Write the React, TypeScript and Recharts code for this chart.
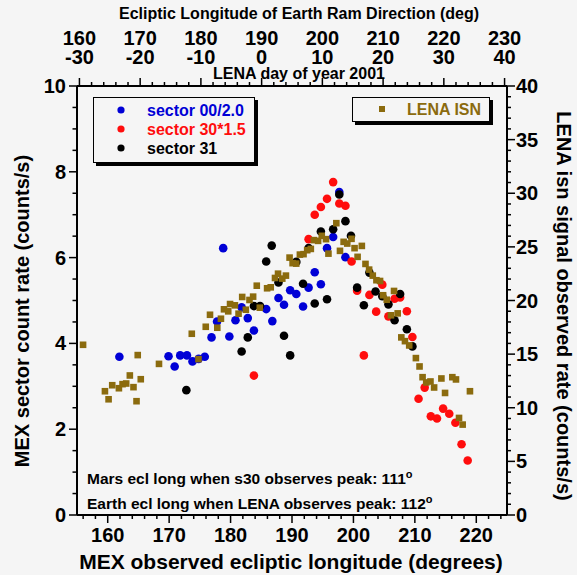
import React from 'react';
import { ScatterChart, Scatter, XAxis, YAxis } from 'recharts';

// MEX sectors, x = MEX observed ecliptic longitude (deg), y = count rate (counts/s)
const sector00Lon = [161.9, 169.9, 170.9, 171.8, 172.9, 173.8, 174.8, 175.8, 176.9, 177.8, 178.8, 179.8, 180.8, 181.8, 182.8, 183.8, 185.8, 186.8, 187.8, 188.7, 189.7, 190.7, 191.8, 192.7, 193.7, 194.7, 195.7, 196.7, 197.7, 198.7];
const sector00Rate = [3.69, 3.7, 3.46, 3.72, 3.72, 3.58, 3.64, 3.69, 4.14, 4.51, 6.22, 4.16, 4.54, 4.84, 4.59, 4.3, 4.8, 4.52, 5.06, 4.9, 5.24, 5.15, 4.86, 5.3, 5.66, 5.38, 6.22, 6.48, 7.53, 6.01];

const sector30Lon = [183.8, 192.7, 193.7, 194.7, 195.7, 196.7, 197.7, 198.7, 199.7, 200.6, 201.7, 202.6, 203.7, 204.7, 205.7, 206.7, 207.6, 208.7, 209.6, 210.6, 211.6, 212.6, 213.6, 214.6, 215.6, 216.6, 217.6, 218.6];
const sector30Rate = [3.25, 6.43, 7.0, 7.18, 7.37, 7.76, 7.26, 7.21, 5.91, 5.23, 3.72, 5.13, 4.74, 5.37, 4.63, 5.04, 5.07, 4.75, 4.15, 2.71, 2.97, 2.3, 2.25, 2.48, 2.36, 2.15, 1.65, 1.27];

const sector31Lon = [172.8, 181.8, 182.8, 183.8, 184.8, 185.8, 186.7, 187.8, 188.7, 189.7, 190.7, 191.8, 192.7, 193.7, 194.7, 195.7, 196.7, 197.7, 198.7, 199.6, 200.6, 201.7, 202.6, 203.6, 204.7, 205.7, 206.7, 207.6, 208.7, 209.6];
const sector31Rate = [2.91, 3.81, 4.14, 4.87, 4.87, 5.91, 6.28, 5.42, 4.18, 3.72, 5.9, 5.39, 6.22, 4.93, 6.61, 5.03, 6.66, 7.47, 6.85, 6.51, 5.3, 4.89, 5.65, 5.21, 5.1, 4.91, 4.54, 5.15, 4.33, 3.93];

// LENA ISN, x = ecliptic longitude of Earth ram direction (deg), y = counts/s (right axis)
const lenaRam = [160.6, 164.2, 164.8, 165.4, 166.5, 167.1, 167.7, 168.3, 168.9, 169.4, 169.6, 170.1, 173.1, 178.5, 179.6, 180.8, 181.5, 182.7, 183.3, 183.8, 184.5, 184.8, 185.6, 186.2, 186.8, 187.4, 188.0, 188.6, 189.2, 189.7, 190.9, 191.5, 192.2, 192.7, 193.4, 194.0, 194.6, 195.1, 195.7, 196.3, 196.9, 197.5, 198.1, 198.6, 199.3, 199.9, 200.6, 201.0, 202.3, 202.9, 203.5, 204.1, 204.8, 205.3, 205.8, 206.5, 207.1, 207.7, 208.3, 208.9, 209.5, 210.0, 210.6, 211.3, 211.8, 212.4, 213.0, 213.6, 214.3, 215.4, 216.0, 216.5, 217.1, 217.8, 218.4, 219.6, 220.2, 221.4, 222.0, 222.5, 223.1, 224.3];
const lenaRate = [15.87, 11.54, 10.79, 12.1, 11.82, 12.2, 12.26, 13.01, 11.92, 10.61, 14.91, 12.66, 14.09, 16.9, 14.53, 17.55, 18.67, 17.46, 18.3, 19.18, 18.99, 19.67, 19.55, 18.77, 20.33, 19.14, 20.05, 20.36, 21.38, 19.33, 21.14, 21.23, 22.1, 22.5, 22.04, 22.32, 24.0, 23.48, 23.44, 24.28, 24.32, 24.69, 24.81, 25.63, 25.56, 26.03, 25.72, 24.37, 27.21, 24.63, 25.47, 25.31, 25.75, 24.88, 24.07, 25.09, 23.41, 22.88, 22.32, 21.89, 21.82, 20.49, 20.07, 18.62, 20.89, 18.8, 16.56, 16.21, 15.81, 14.63, 13.85, 12.85, 12.36, 12.45, 11.89, 12.73, 11.38, 12.85, 12.64, 9.05, 8.43, 11.54];

// tick labels
const bottomLabels = [160, 170, 180, 190, 200, 210, 220];
const topEclLabels = [160, 170, 180, 190, 200, 210, 220, 230];
const topDayLabels = [-30, -20, -10, 0, 10, 20, 30, 40];
const leftLabels = [0, 2, 4, 6, 8, 10];
const rightLabels = [0, 5, 10, 15, 20, 25, 30, 35, 40];

const BLUE = '#0000d6';
const RED = '#ff0d0d';
const BROWN = '#8b6b0e';
const FONT = '"Liberation Sans", Arial, Helvetica, sans-serif';

const zip = (xs: number[], ys: number[]) => xs.map((x, i) => ({ x, y: ys[i] }));

const range = (from: number, to: number, step: number) => {
  const out: number[] = [];
  for (let i = 0; from + i * step <= to + 1e-9; i++) out.push(+(from + i * step).toFixed(2));
  return out;
};

const txt = { fontFamily: FONT, fontWeight: 700, fill: '#000' } as const;

const BottomTick = (p: any) => {
  const v = p.payload.value;
  const major = bottomLabels.includes(v);
  return (
    <g>
      <line x1={p.x} x2={p.x} y1={p.y} y2={p.y + (major ? 8 : 4)} stroke="#000" strokeWidth={1.5} />
      {major && <text x={p.x} y={542} textAnchor="middle" fontSize={20} {...txt}>{v}</text>}
    </g>
  );
};

const TopTick = (p: any) => {
  const v = p.payload.value;
  const i = topEclLabels.indexOf(v);
  return (
    <g>
      <line x1={p.x} x2={p.x} y1={p.y} y2={p.y - (i >= 0 ? 8 : 4)} stroke="#000" strokeWidth={1.5} />
      {i >= 0 && <text x={p.x} y={44.5} textAnchor="middle" fontSize={20} {...txt}>{v}</text>}
      {i >= 0 && <text x={p.x} y={64} textAnchor="middle" fontSize={20} {...txt}>{topDayLabels[i]}</text>}
    </g>
  );
};

const LeftTick = (p: any) => {
  const v = p.payload.value;
  const major = leftLabels.includes(v);
  return (
    <g>
      <line x1={p.x - (major ? 8 : 4.5)} x2={p.x} y1={p.y} y2={p.y} stroke="#000" strokeWidth={1.5} />
      {major && <text x={p.x - 11} y={p.y + 7} textAnchor="end" fontSize={20} {...txt}>{v}</text>}
    </g>
  );
};

const RightTick = (p: any) => {
  const v = p.payload.value;
  const major = rightLabels.includes(v);
  return (
    <g>
      <line x1={p.x} x2={p.x + (major ? 8 : 4)} y1={p.y} y2={p.y} stroke="#000" strokeWidth={1.5} />
      {major && <text x={p.x + 9} y={p.y + 7} textAnchor="start" fontSize={20} {...txt}>{v}</text>}
    </g>
  );
};

const dot = (color: string) => (p: any) => <circle cx={p.cx} cy={p.cy} r={4.3} fill={color} />;
const square = (p: any) => <rect x={p.cx - 3.3} y={p.cy - 3.3} width={6.6} height={6.6} fill={BROWN} />;

const axisLine = { stroke: '#000', strokeWidth: 2 };

const boxStyle: React.CSSProperties = {
  position: 'absolute',
  border: '1.5px solid #000',
  boxShadow: '3px 3px 0 #000',
  background: '#f5f5f5',
  boxSizing: 'border-box',
};

export default function App() {
  return (
    <div style={{ position: 'relative', width: 577, height: 575, background: '#f5f5f5', overflow: 'hidden' }}>
      <style>{'body{margin:0;background:#f5f5f5}'}</style>
      <ScatterChart width={577} height={575} margin={{ top: 0, right: 0, bottom: 0, left: 0 }}>
        <XAxis xAxisId="bottom" type="number" dataKey="x" domain={[155, 225]} allowDataOverflow
          ticks={range(156, 224, 2)} interval={0} height={60} tickSize={0} tickMargin={0}
          tickLine={false} axisLine={axisLine} tick={BottomTick} />
        <XAxis xAxisId="top" orientation="top" type="number" dataKey="x" domain={[159.6, 230.4]} allowDataOverflow
          ticks={range(160, 230, 2)} interval={0} height={86} tickSize={0} tickMargin={0}
          tickLine={false} axisLine={axisLine} tick={TopTick} />
        <YAxis yAxisId="left" type="number" dataKey="y" domain={[0, 10]} allowDataOverflow
          ticks={range(0, 10, 0.5)} interval={0} width={77} tickSize={0} tickMargin={0}
          tickLine={false} axisLine={axisLine} tick={LeftTick} />
        <YAxis yAxisId="right" orientation="right" type="number" dataKey="y" domain={[0, 40]} allowDataOverflow
          ticks={range(0, 40, 1)} interval={0} width={70} tickSize={0} tickMargin={0}
          tickLine={false} axisLine={axisLine} tick={RightTick} />
        <Scatter name="sector 00/2.0" xAxisId="bottom" yAxisId="left" data={zip(sector00Lon, sector00Rate)} shape={dot(BLUE)} isAnimationActive={false} />
        <Scatter name="sector 30*1.5" xAxisId="bottom" yAxisId="left" data={zip(sector30Lon, sector30Rate)} shape={dot(RED)} isAnimationActive={false} />
        <Scatter name="sector 31" xAxisId="bottom" yAxisId="left" data={zip(sector31Lon, sector31Rate)} shape={dot('#000')} isAnimationActive={false} />
        <Scatter name="LENA ISN" xAxisId="top" yAxisId="right" data={zip(lenaRam, lenaRate)} shape={square} isAnimationActive={false} />
      </ScatterChart>

      <svg width={577} height={575} style={{ position: 'absolute', left: 0, top: 0, pointerEvents: 'none' }}>
        <text x={299} y={19} textAnchor="middle" fontSize={16} {...txt}>Ecliptic Longitude of Earth Ram Direction (deg)</text>
        <text x={299} y={79} textAnchor="middle" fontSize={16} {...txt}>LENA day of year 2001</text>
        <text x={291} y={569} textAnchor="middle" fontSize={21} {...txt}>MEX observed ecliptic longitude (degrees)</text>
        <text transform="translate(29,311) rotate(-90)" textAnchor="middle" fontSize={20} {...txt}>MEX sector count rate (counts/s)</text>
        <text transform="translate(557,306) rotate(90)" textAnchor="middle" fontSize={20} {...txt}>LENA isn signal observed rate (counts/s)</text>
        <text x={87} y={484} fontSize={15.5} {...txt}>Mars ecl long when s30 observes peak: 111<tspan dy={-6} fontSize={11}>o</tspan></text>
        <text x={87} y={509} fontSize={15.5} {...txt}>Earth ecl long when LENA observes peak: 112<tspan dy={-6} fontSize={11}>o</tspan></text>
      </svg>

      <div style={{ ...boxStyle, left: 93, top: 97, width: 162, height: 66 }}>
        <svg width={160} height={63} style={{ position: 'absolute', left: 0, top: 0 }}>
          <circle cx={27} cy={12} r={3.6} fill={BLUE} />
          <circle cx={27} cy={31} r={3.6} fill={RED} />
          <circle cx={27} cy={50} r={3.6} fill="#000" />
          <text x={53} y={18} fontSize={16} fontFamily={FONT} fontWeight={700} fill={BLUE}>sector 00/2.0</text>
          <text x={53} y={37} fontSize={16} fontFamily={FONT} fontWeight={700} fill={RED}>sector 30*1.5</text>
          <text x={53} y={56} fontSize={16} fontFamily={FONT} fontWeight={700} fill="#000">sector 31</text>
        </svg>
      </div>
      <div style={{ ...boxStyle, left: 352, top: 97, width: 138, height: 25 }}>
        <svg width={136} height={22} style={{ position: 'absolute', left: 0, top: 0 }}>
          <rect x={26} y={8} width={6} height={6} fill={BROWN} />
          <text x={54} y={17} fontSize={16} fontFamily={FONT} fontWeight={700} fill={BROWN}>LENA ISN</text>
        </svg>
      </div>
    </div>
  );
}
